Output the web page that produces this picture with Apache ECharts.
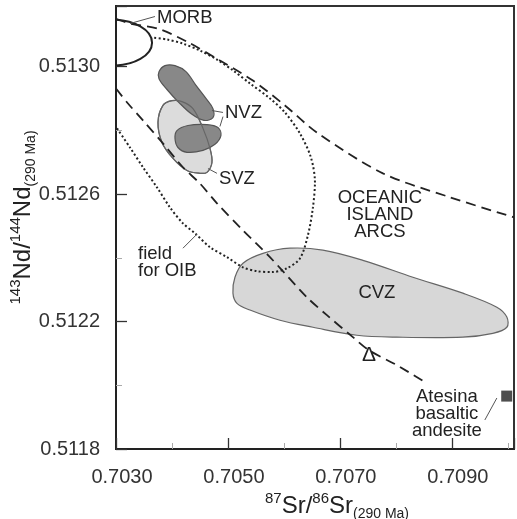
<!DOCTYPE html>
<html>
<head>
<meta charset="utf-8">
<style>
  html, body { margin: 0; padding: 0; background: #fff; }
  #chart { width: 517px; height: 519px; }
</style>
<script src="https://cdn.jsdelivr.net/npm/echarts@6/dist/echarts.min.js"></script>
</head>
<body>
<div id="chart"></div>
<script>
// Sr-Nd isotope diagram, all fields in data units (87Sr/86Sr, 143Nd/144Nd)
var xTicks = [0.7030, 0.7050, 0.7070, 0.7090];
var yTicks = [0.5118, 0.5122, 0.5126, 0.5130];
var xRange = [0.7030, 0.71011];
var yRange = [0.5118, 0.51319];

// MORB ellipse: centre and half-axes
var morbCenter = [0.70293, 0.513075];
var morbRadius = [0.000714, 0.000072];

// upper limit of oceanic island arcs (dashed)
var arcUpper = [
  [0.70300, 0.513150], [0.70325, 0.513135], [0.70375, 0.513119], [0.704268, 0.513078],
  [0.704857, 0.513019], [0.705446, 0.512956], [0.706018, 0.512878], [0.706589, 0.512793],
  [0.707768, 0.512665], [0.708964, 0.512590], [0.710107, 0.512527]
];
// lower limit (dashed) running down to the Atesina sample
var arcLower = [
  [0.70300, 0.512931], [0.703214, 0.512884], [0.703482, 0.512831], [0.703839, 0.512759],
  [0.704196, 0.512684], [0.70450, 0.512633], [0.704804, 0.512571], [0.705268, 0.512486],
  [0.70575, 0.512402], [0.706411, 0.512276], [0.706768, 0.512220], [0.707232, 0.512151],
  [0.707518, 0.512110], [0.708018, 0.512063], [0.708518, 0.512010]
];
// field for OIB (dotted)
var oibField = [
  [0.703018, 0.512806], [0.70325, 0.512746], [0.703482, 0.512684], [0.703732, 0.512621],
  [0.703964, 0.512558], [0.704196, 0.512508], [0.704411, 0.512477], [0.704679, 0.512433],
  [0.704982, 0.512402], [0.705268, 0.512370], [0.705518, 0.512358], [0.705786, 0.512355],
  [0.706054, 0.512367], [0.706286, 0.512398], [0.706429, 0.512471], [0.706518, 0.512558],
  [0.706554, 0.512637], [0.706482, 0.512715], [0.706286, 0.512790], [0.706018, 0.512856],
  [0.70575, 0.512900], [0.705393, 0.512947], [0.705089, 0.512988], [0.704804, 0.513022],
  [0.70450, 0.513050], [0.704196, 0.513072], [0.703911, 0.513085], [0.703643, 0.513091]
];
var nvzUpper = [
  [0.703768, 0.512984], [0.703875, 0.513003], [0.704054, 0.513003], [0.704250, 0.512984],
  [0.704429, 0.512941], [0.704607, 0.512900], [0.704732, 0.512868], [0.704732, 0.512840],
  [0.704571, 0.512831], [0.704357, 0.512850], [0.704125, 0.512887], [0.703911, 0.512928],
  [0.703768, 0.512962]
];
var nvzLower = [
  [0.704089, 0.512799], [0.704286, 0.512815], [0.704625, 0.512818], [0.704821, 0.512809],
  [0.704875, 0.512784], [0.704768, 0.512756], [0.704554, 0.512737], [0.704268, 0.512731],
  [0.704107, 0.512746], [0.704054, 0.512774]
];
var svz = [
  [0.703839, 0.512878], [0.70400, 0.512893], [0.704179, 0.512890], [0.704375, 0.512868],
  [0.704554, 0.512806], [0.704679, 0.512743], [0.704714, 0.512699], [0.704625, 0.512668],
  [0.70450, 0.512665], [0.704268, 0.512674], [0.704018, 0.512712], [0.703821, 0.512762],
  [0.70375, 0.512825]
];
var cvz = [
  [0.705089, 0.512289], [0.705125, 0.512339], [0.705268, 0.512383], [0.705625, 0.512414],
  [0.706107, 0.512430], [0.706696, 0.512424], [0.707411, 0.512392], [0.708304, 0.512339],
  [0.709196, 0.512289], [0.709804, 0.512245], [0.709982, 0.512214], [0.709982, 0.512182],
  [0.709732, 0.512163], [0.709196, 0.512151], [0.708018, 0.512151], [0.707304, 0.512157],
  [0.706518, 0.512182], [0.705929, 0.512204], [0.705393, 0.512236], [0.705161, 0.512257]
];
var atesina = [[0.70998, 0.511966]];

var labelTexts = ['MORB', 'NVZ', 'SVZ', 'OCEANIC\nISLAND\nARCS', 'field\nfor OIB', 'CVZ', 'Δ', 'Atesina\nbasaltic\nandesite'];
var labelPoints = [
  [0.703732, 0.513154], [0.704946, 0.512853], [0.704839, 0.512646], [0.707714, 0.512533],
  [0.703393, 0.512387], [0.707661, 0.512289], [0.707518, 0.512095], [0.708911, 0.511910]
];
// leader lines: [x1, y1, x2, y2]
var leaders = [
  [0.703696, 0.513157, 0.70325, 0.513135],
  [0.704911, 0.512856, 0.704714, 0.512862],
  [0.704911, 0.512843, 0.704857, 0.512812],
  [0.704804, 0.512665, 0.704643, 0.512680],
  [0.704196, 0.512430, 0.704446, 0.512474],
  [0.709589, 0.511891, 0.709804, 0.511960]
];

var FONT = '"Liberation Sans", Arial, Helvetica, sans-serif';

function area(points, fill, stroke, z) {
  return {
    type: 'custom', coordinateSystem: 'cartesian2d', clip: true, silent: true, z: z,
    data: points,
    renderItem: function (params, api) {
      if (params.dataIndex !== 0) return;
      return {
        type: 'polygon',
        shape: { points: points.map(function (p) { return api.coord(p); }), smooth: 0.35 },
        style: { fill: fill, stroke: stroke, lineWidth: 1.2 }
      };
    }
  };
}

function curve(points, dash, width, z) {
  return {
    type: 'line', data: points, smooth: 0.3, showSymbol: false, silent: true, z: z,
    lineStyle: { color: '#222', width: width, type: dash }
  };
}

(function () {
  var myChart = echarts.init(document.getElementById('chart'));
  var axisName = {
    fontFamily: FONT, color: '#222',
    rich: {
      b: { fontSize: 24, fontFamily: FONT, color: '#222', lineHeight: 30, verticalAlign: 'middle' },
      sup: { fontSize: 15, fontFamily: FONT, color: '#222', lineHeight: 15, verticalAlign: 'top' },
      sub: { fontSize: 14, fontFamily: FONT, color: '#222', lineHeight: 15, verticalAlign: 'bottom' }
    }
  };
  var option = {
    animation: false,
    grid: {
      left: 116, right: 3, top: 6, bottom: 70, outerBoundsMode: 'none',
      show: true, borderColor: '#333', borderWidth: 2
    },
    xAxis: {
      type: 'value', min: xRange[0], max: xRange[1], interval: xTicks[1] - xTicks[0],
      name: '{sup|87}{b|Sr/}{sup|86}{b|Sr}{sub|(290 Ma)}', nameLocation: 'middle', nameGap: 42,
      nameMoveOverlap: false,
      nameTextStyle: Object.assign({ padding: [0, 0, 0, 44] }, axisName),
      axisLine: { lineStyle: { color: '#222', width: 2 } },
      axisTick: { show: true, inside: true, length: 11, lineStyle: { color: '#333', width: 1.3 } },
      minorTick: { show: true, splitNumber: 2, length: 6, lineStyle: { color: '#aaa' } },
      splitLine: { show: false },
      axisLabel: {
        fontSize: 20, fontFamily: FONT, color: '#333', margin: 18, padding: [0, 0, 0, 12],
        showMaxLabel: false,
        formatter: function (v) { return v.toFixed(4); }
      }
    },
    yAxis: {
      type: 'value', min: yRange[0], max: yRange[1], interval: yTicks[1] - yTicks[0],
      name: '{sup|143}{b|Nd/}{sup|144}{b|Nd}{sub|(290 Ma)}', nameLocation: 'middle', nameGap: 78,
      nameRotate: 90, nameMoveOverlap: false,
      nameTextStyle: Object.assign({ padding: [0, 0, 0, 20] }, axisName),
      axisLine: { lineStyle: { color: '#222', width: 2 } },
      axisTick: { show: true, inside: true, length: 11, lineStyle: { color: '#333', width: 1.3 } },
      minorTick: { show: true, splitNumber: 2, length: 6, lineStyle: { color: '#aaa' } },
      splitLine: { show: false },
      axisLabel: {
        fontSize: 20, fontFamily: FONT, color: '#333', margin: 16,
        showMaxLabel: false,
        formatter: function (v) { return v.toFixed(4); }
      }
    },
    series: [
      area(cvz, '#d7d7d7', '#666', 2),
      area(svz, '#dcdcdc', '#666', 3),
      area(nvzUpper, '#888888', '#555', 4),
      area(nvzLower, '#888888', '#555', 4),
      area(svz, 'none', '#666', 5),
      curve(oibField, [2, 2.4], 2, 6),
      curve(arcUpper, [10, 6], 1.8, 6),
      curve(arcLower, [10, 6], 1.8, 6),
      {
        type: 'custom', coordinateSystem: 'cartesian2d', clip: true, silent: true, z: 7,
        data: [morbCenter],
        renderItem: function (params, api) {
          var c = api.coord(morbCenter);
          var s = api.size(morbRadius);
          return {
            type: 'ellipse',
            shape: { cx: c[0], cy: c[1], rx: s[0], ry: s[1] },
            style: { fill: 'none', stroke: '#222', lineWidth: 2 }
          };
        }
      },
      {
        type: 'custom', coordinateSystem: 'cartesian2d', silent: true, z: 8,
        data: leaders,
        renderItem: function (params, api) {
          var a = api.coord([api.value(0), api.value(1)]);
          var b = api.coord([api.value(2), api.value(3)]);
          return {
            type: 'line',
            shape: { x1: a[0], y1: a[1], x2: b[0], y2: b[1] },
            style: { stroke: '#555', lineWidth: 1 }
          };
        }
      },
      {
        type: 'custom', coordinateSystem: 'cartesian2d', silent: true, z: 9,
        data: labelPoints,
        renderItem: function (params, api) {
          var i = params.dataIndex;
          var p = api.coord(labelPoints[i]);
          var left = (i === 0 || i === 1 || i === 2 || i === 4);
          return {
            type: 'text', x: p[0], y: p[1],
            style: {
              text: labelTexts[i], fontSize: labelTexts[i] === 'Δ' ? 21 : 18.5,
              fontFamily: FONT, fill: '#222',
              align: left ? 'left' : 'center', verticalAlign: 'middle',
              lineHeight: 17
            }
          };
        }
      },
      {
        type: 'scatter', data: atesina, symbol: 'rect', symbolSize: 11, silent: true, z: 9,
        itemStyle: { color: '#222' }
      }
    ]
  };
  myChart.setOption(option);
})();
</script>
</body>
</html>
